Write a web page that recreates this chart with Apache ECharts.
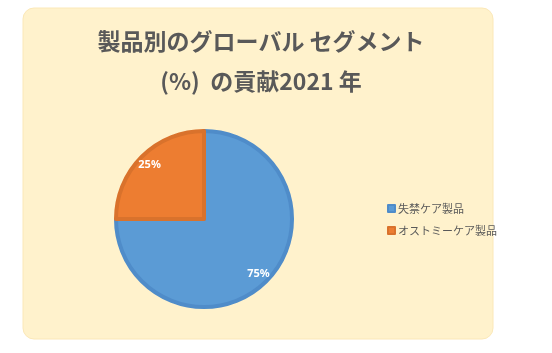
<!DOCTYPE html>
<html><head><meta charset="utf-8">
<script src="https://cdn.jsdelivr.net/npm/echarts@6/dist/echarts.min.js"></script>
<style>html,body{margin:0;padding:0;background:#fff}#c{width:552px;height:353px}</style>
</head><body><div id="c"></div>
<script>
const categories = ['失禁ケア製品', 'オストミーケア製品'];
const shares = [75, 25];
const colors = ['#5B9BD5', '#ED7D31'];
const borders = ['#4F8CC9', '#D9722C'];
const titleLines = ['製品別のグローバル セグメント', '(%)  の貢献2021 年'];

const data = categories.map((n, i) => ({
  name: n, value: shares[i],
  itemStyle: { color: colors[i], borderColor: borders[i], borderWidth: 4 }
}));
const chart = echarts.init(document.getElementById('c'));
chart.setOption({
  animation: false,
  backgroundColor: '#ffffff',
  graphic: [{
    type: 'rect', z: -10, silent: true,
    shape: { x: 23, y: 8, width: 470, height: 331, r: 11 },
    style: { fill: '#FFF2CC', stroke: '#FBE8B8', lineWidth: 1 }
  }],
  title: {
    text: titleLines.join('\n'),
    left: 256, top: 16, textAlign: 'center',
    textStyle: { fontFamily: 'Noto Sans CJK JP', fontWeight: 'bold', fontSize: 23, color: '#595959', lineHeight: 40 }
  },
  legend: {
    orient: 'vertical', left: 382, top: 198,
    itemWidth: 7, itemHeight: 7, itemGap: 11, icon: 'rect',
    textStyle: { fontFamily: 'Noto Sans CJK JP', fontSize: 11, color: '#595959', padding: [0, 0, 0, -2] },
    data: categories
  },
  series: [{
    type: 'pie', center: [204, 219], radius: [0, 88], startAngle: 90, clockwise: true,
    label: { show: false }, labelLine: { show: false }, silent: true,
    data: data
  }, {
    type: 'pie', center: [204, 219], radius: [56, 92], startAngle: 90, clockwise: true,
    silent: true, legendHoverLink: false,
    itemStyle: { color: 'rgba(0,0,0,0)', borderWidth: 0 },
    label: { show: true, position: 'inside', formatter: '{c}%', color: '#ffffff', fontFamily: 'Noto Sans', fontWeight: 'bold', fontSize: 11 },
    labelLine: { show: false },
    data: categories.map((n, i) => ({ name: n + ' ', value: shares[i] }))
  }]
});
</script></body></html>
